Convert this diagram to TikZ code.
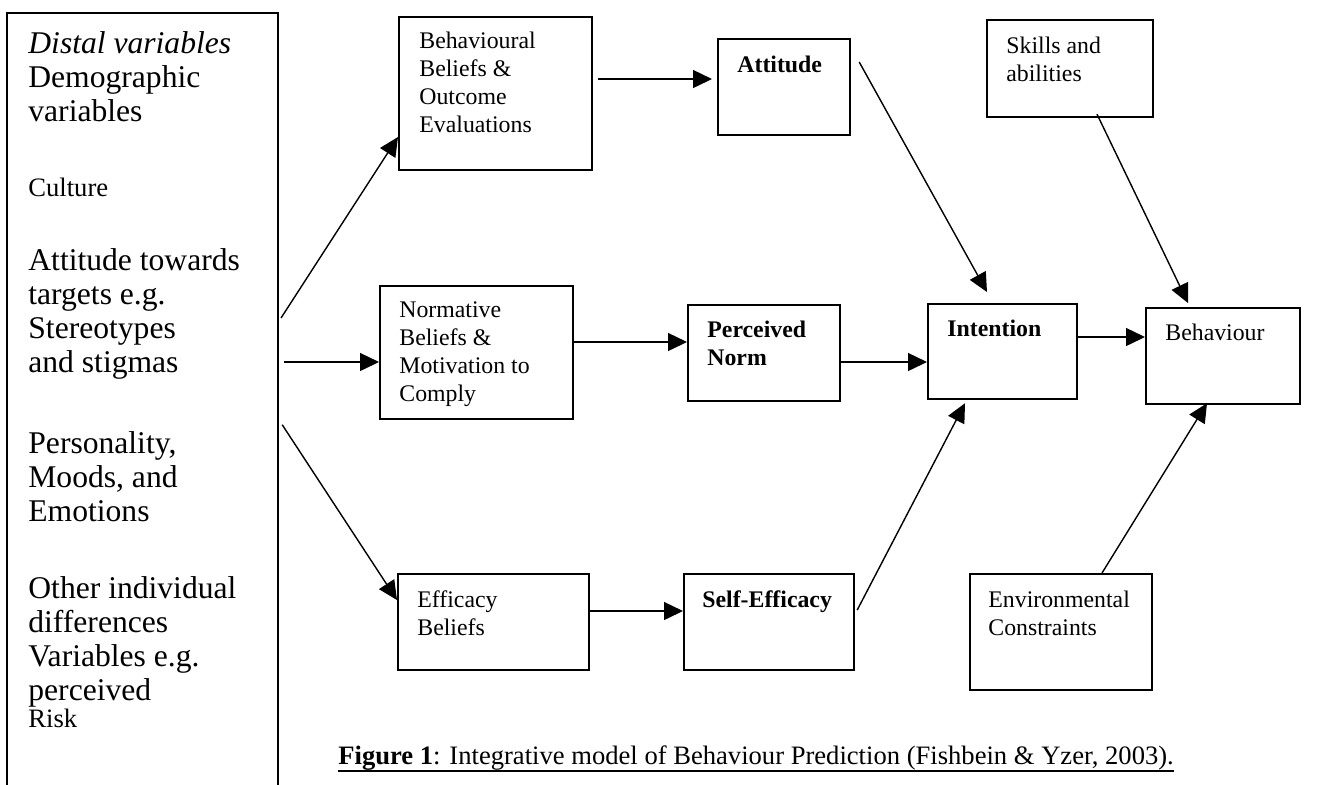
\documentclass[tikz,border=0pt]{standalone}
\usepackage{fontspec}
\setmainfont{Liberation Serif}
\usetikzlibrary{arrows.meta, calc}

\tikzset{
    box/.style={draw, line width=1.1pt, anchor=north west, inner sep=0pt},
    txt/.style={anchor=base west, align=left, inner sep=0pt, font=\fontsize{11.9}{13.85}\selectfont},
    bigtxt/.style={anchor=base west, align=left, inner sep=0pt, font=\fontsize{15.8}{17}\selectfont},
    midtxt/.style={anchor=base west, align=left, inner sep=0pt, font=\fontsize{13.3}{15}\selectfont},
    arr/.style={line width=0.7pt, -{Triangle[length=9.5pt, width=9pt]}}
}

\begin{document}
\begin{tikzpicture}[x=0.5pt, y=-0.5pt]
    \useasboundingbox (0,0) rectangle (1323,784);

    % text nodes sit on the baseline of their last line
    \node[anchor=north west, inner sep=0pt, minimum width=135pt, minimum height=385.5pt] (distal) at (7,13) {};
    \draw[line width=1.1pt] (distal.south west) -- (distal.north west) -- (distal.north east) -- (distal.south east);
    \node[bigtxt] (demog) at ($(distal.north west)+(21,108)$) {\textit{Distal variables}\\Demographic\\variables};
    \node[midtxt] (cult) at ($(distal.north west)+(21,183)$) {Culture};
    \node[bigtxt] (attt) at ($(distal.north west)+(21,359)$) {Attitude towards\\targets e.g.\\Stereotypes\\and stigmas};
    \node[bigtxt] (pers) at ($(distal.north west)+(21,508)$) {Personality,\\Moods, and\\Emotions};
    \node[bigtxt] (other) at ($(distal.north west)+(21,714)$) {Other individual\\differences\\Variables e.g.\\perceived\\[-3.5pt]{\fontsize{13.3}{15}\selectfont Risk}};

    \node[box, minimum width=96.5pt, minimum height=76.5pt] (beh) at (398,16) {};
    \node[txt] (behtxt) at ($(beh.north west)+(21,116)$) {Behavioural\\Beliefs \&\\Outcome\\Evaluations};
    \node[box, minimum width=66pt, minimum height=48pt] (att) at (717,38) {};
    \node[txt, font=\fontsize{11.9}{13.85}\selectfont\bfseries] (atttxt) at ($(att.north west)+(20,34)$) {Attitude};
    \node[box, minimum width=83pt, minimum height=48.5pt] (skills) at (986,19) {};
    \node[txt] (skillstxt) at ($(skills.north west)+(20,62)$) {Skills and\\abilities};

    \node[box, minimum width=96.5pt, minimum height=66.5pt] (norm) at (379,285) {};
    \node[txt] (normtxt) at ($(norm.north west)+(20,116)$) {Normative\\Beliefs \&\\Motivation to\\Comply};
    \node[box, minimum width=76pt, minimum height=48pt] (perc) at (687,304) {};
    \node[txt, font=\fontsize{11.9}{13.85}\selectfont\bfseries] (perctxt) at ($(perc.north west)+(20,61)$) {Perceived\\Norm};
    \node[box, minimum width=74.5pt, minimum height=47.5pt] (int) at (927,303) {};
    \node[txt, font=\fontsize{11.9}{13.85}\selectfont\bfseries] (inttxt) at ($(int.north west)+(20,33)$) {Intention};
    \node[box, minimum width=77pt, minimum height=48pt] (behav) at (1145,307) {};
    \node[txt] (behavtxt) at ($(behav.north west)+(20,33)$) {Behaviour};

    \node[box, minimum width=95.5pt, minimum height=48pt] (eff) at (397,573) {};
    \node[txt] (efftxt) at ($(eff.north west)+(20,62)$) {Efficacy\\Beliefs};
    \node[box, minimum width=85pt, minimum height=48pt] (self) at (683,573) {};
    \node[txt, font=\fontsize{11.9}{13.85}\selectfont\bfseries] (selftxt) at ($(self.north west)+(19,34)$) {Self-Efficacy};
    \node[box, minimum width=91pt, minimum height=58pt] (env) at (969,573) {};
    \node[txt] (envtxt) at ($(env.north west)+(19,62)$) {Environmental\\Constraints};

    \draw[arr, shorten <=3pt] (distal.east |- 0,323) -- (beh.west |- 0,137);
    \draw[arr, shorten <=3pt] (distal.east |- 0,362) -- (norm.west |- 0,362);
    \draw[arr, shorten <=4pt] (distal.east |- 0,418) -- (eff.west |- 0,600);
    \draw[arr, shorten <=2.5pt, shorten >=2.5pt] (beh.east |- 0,79) -- (att.west |- 0,79);
    \draw[arr] (norm.east |- 0,342) -- (perc.west |- 0,342);
    \draw[arr] (eff.east |- 0,611) -- (self.west |- 0,611);
    \draw[arr] (perc.east |- 0,362) -- (int.west |- 0,362);
    \draw[arr] (int.east |- 0,337) -- (behav.west |- 0,337);
    \draw[arr] ($(att.north east)+(8,24)$) -- ($(int.north west)+(60,-11)$);
    \draw[arr] ($(skills.south west)+(111,-4)$) -- ($(behav.north west)+(43,-4)$);
    \draw[arr] ($(self.north east)+(2,37)$) -- ($(int.south west)+(38,3)$);
    \draw[arr] ($(env.north west)+(133,0)$) -- ($(behav.south west)+(62,-2)$);

    \node[midtxt] (fig) at (338,764) {\textbf{Figure 1}: Integrative model of Behaviour Prediction (Fishbein \& Yzer, 2003).};
    \draw[line width=0.9pt] ($(fig.base west)+(0,7)$) -- ($(fig.base east)+(0,7)$);
\end{tikzpicture}
\end{document}
